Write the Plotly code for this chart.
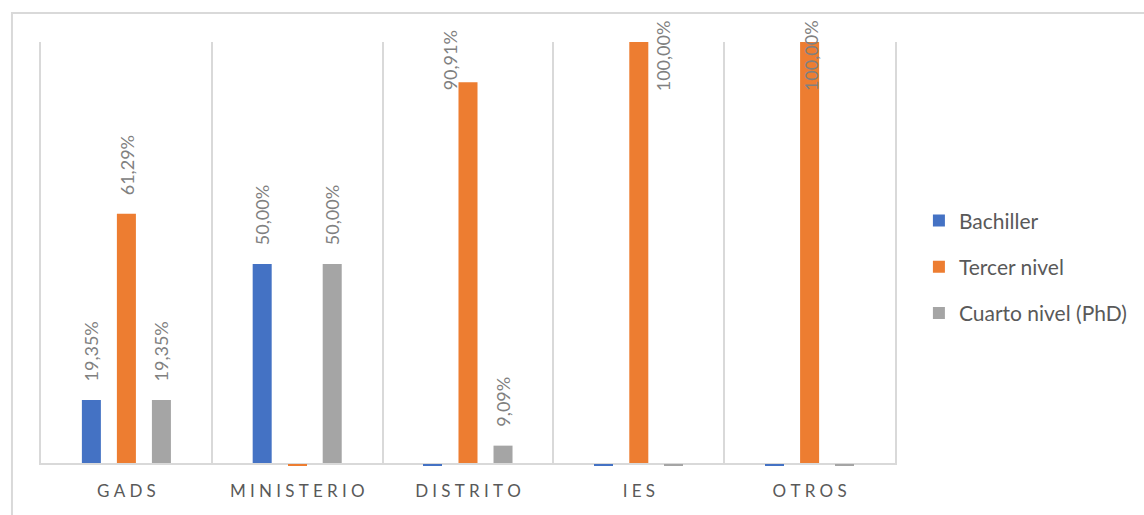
import plotly.graph_objects as go

# Data
categories = ["GADS", "MINISTERIO", "DISTRITO", "IES", "OTROS"]
series_names = ["Bachiller", "Tercer nivel", "Cuarto nivel (PhD)"]
bachiller = [19.35, 50.00, 0.0, 0.0, 0.0]
tercer_nivel = [61.29, 0.0, 90.91, 100.00, 100.00]
cuarto_nivel = [19.35, 50.00, 9.09, 0.0, 0.0]

# Styling
colors = ["#4472C4", "#ED7D31", "#A5A5A5"]
FONT = "Lato"
Y_MIN, Y_MAX = 5.18, 100.0
BARGAP = 0.385

# Label nudges (pixels) for labels that would run past the top of the chart
label_nudge = {
    ("Tercer nivel", "DISTRITO"): (-18, -10),
    ("Tercer nivel", "IES"): (24, -51),
    ("Tercer nivel", "OTROS"): (1, -51),
}


def spaced(word, sep="\u2005"):
    return sep.join(word)


def pct(v):
    return f"{v:.2f}".replace(".", ",") + "%"


fig = go.Figure()
all_values = [bachiller, tercer_nivel, cuarto_nivel]
n = len(series_names)
slot = (1 - BARGAP) / n
for name, vals, col in zip(series_names, all_values, colors):
    fig.add_trace(go.Bar(
        name=name, x=categories, y=vals, marker_color=col,
        marker_line_width=0, legendgroup=name,
    ))

annotations = []
for si, (name, vals, col) in enumerate(zip(series_names, all_values, colors)):
    for ci, (cat, v) in enumerate(zip(categories, vals)):
        xpos = ci + (si - (n - 1) / 2) * slot
        if v == 0:
            # zero values: a thin dash just under the category axis
            annotations.append(dict(
                x=xpos, y=Y_MIN, xref="x", yref="y", text=" ",
                showarrow=False, xanchor="center", yanchor="top",
                width=19, height=2, borderpad=0, borderwidth=0,
                bgcolor=col, yshift=-1, font=dict(size=1),
            ))
            continue
        # value label above the bar
        dx, dy = label_nudge.get((name, cat), (0, 17))
        annotations.append(dict(
            x=xpos, y=v, xref="x", yref="y",
            text=pct(v), textangle=-90, showarrow=False,
            xanchor="center", yanchor="bottom", xshift=dx, yshift=dy,
            font=dict(family=FONT, size=18, color="#808080"),
        ))

fig.update_layout(
    width=1144, height=515,
    margin=dict(l=41, r=249, t=42, b=52, autoexpand=False),
    paper_bgcolor="white", plot_bgcolor="white",
    barmode="group", bargap=BARGAP, bargroupgap=0.457,
    font=dict(family=FONT, color="#595959"),
    annotations=annotations,
    legend=dict(
        x=1.028, y=0.466, xanchor="left", yanchor="middle",
        font=dict(family=FONT, size=21, color="#595959"),
        tracegroupgap=16, traceorder="grouped",
    ),
    shapes=[dict(
        type="rect", xref="paper", yref="paper",
        x0=-0.034, x1=1.5, y0=-0.5, y1=1.069,
        line=dict(color="#D9D9D9", width=2), layer="below",
    )],
    xaxis=dict(
        type="category", tickmode="array", tickvals=categories,
        ticktext=[spaced(c) for c in categories],
        tickson="boundaries", ticks="", showgrid=True, gridcolor="#D9D9D9",
        gridwidth=1.5, showline=True, linecolor="#D9D9D9", linewidth=1.5,
        tickfont=dict(family=FONT, size=17, color="#595959"),
        ticklabelstandoff=12, range=[-0.5, 4.5],
    ),
    yaxis=dict(
        range=[Y_MIN, Y_MAX], showgrid=False, showticklabels=False,
        zeroline=False, showline=True, mirror=True, linecolor="#D9D9D9",
        linewidth=1.5,
    ),
)

fig.write_html("out.html")
